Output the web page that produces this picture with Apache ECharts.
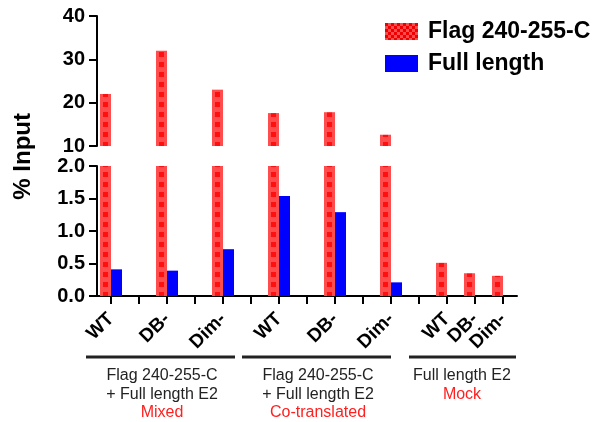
<!DOCTYPE html>
<html>
<head>
<meta charset="utf-8">
<script src="https://cdn.jsdelivr.net/npm/echarts@6/dist/echarts.min.js"></script>
<style>
html,body{margin:0;padding:0;background:#fff;}
#c{width:592px;height:422px;}
</style>
</head>
<body>
<div id="c"></div>
<script>
// Data
var categories = ['WT', '', 'DB-', '', 'Dim-', '', 'WT', '', 'DB-', '', 'Dim-', '', 'WT', 'DB-', 'Dim-'];
var flagValues = [22, null, 32, null, 23, null, 17.6, null, 17.8, null, 12.6, null, 0.51, 0.35, 0.31];
var fullLengthValues = [0.41, null, 0.39, null, 0.72, null, 1.54, null, 1.29, null, 0.21, null, null, null, null];
var topTicks = [10, 20, 30, 40];
var bottomTicks = [0, 0.5, 1.0, 1.5, 2.0];
var groupLines1 = ['Flag 240-255-C', '+ Full length E2'];
var groupLines2 = ['Flag 240-255-C', '+ Full length E2'];
var groupLines3 = ['Full length E2'];
var groupTags = ['Mixed', 'Co-translated', 'Mock'];

var FONT = 'Liberation Sans, Arial, Helvetica, sans-serif';

// bar fill: light red with darker dashed centre line (tile matches category band width)
var pc = document.createElement('canvas');
pc.width = 28; pc.height = 10;
var g = pc.getContext('2d');
g.fillStyle = '#ff4d4d'; g.fillRect(0, 0, 28, 10);
g.fillStyle = '#ff1010';
g.fillRect(19, 2, 5, 5);
var redPattern = { image: pc, repeat: 'repeat' };

// legend icon: checker pattern
var lc = document.createElement('canvas');
lc.width = 6; lc.height = 6;
var lg = lc.getContext('2d');
lg.fillStyle = '#ff4d4d'; lg.fillRect(0, 0, 6, 6);
lg.fillStyle = '#f00000';
lg.fillRect(0, 0, 3, 3); lg.fillRect(3, 3, 3, 3);
var legendPattern = { image: lc, repeat: 'repeat' };

var chart = echarts.init(document.getElementById('c'), null, { renderer: 'canvas' });

function yAxisCommon(idx, min, max, interval, fmt) {
  return {
    type: 'value', gridIndex: idx, min: min, max: max, interval: interval,
    splitLine: { show: false },
    axisLine: { show: true, lineStyle: { color: '#000', width: 2 } },
    axisTick: { show: true, length: 8, lineStyle: { color: '#000', width: 2 } },
    axisLabel: { color: '#000', fontFamily: FONT, fontWeight: 'bold', fontSize: 20, margin: 12, formatter: fmt }
  };
}

var groupTexts = [
  { x: 162, lines: groupLines1, tag: groupTags[0] },
  { x: 318, lines: groupLines2, tag: groupTags[1] },
  { x: 462, lines: groupLines3, tag: groupTags[2] }
];
var graphics = [
  { type: 'text', left: 11, top: 113, rotation: Math.PI / 2,
    style: { text: '% Input', font: 'bold 24px ' + FONT, fill: '#000' } },
  { type: 'line', shape: { x1: 86, y1: 357, x2: 235, y2: 357 }, style: { stroke: '#222', lineWidth: 3 } },
  { type: 'line', shape: { x1: 242, y1: 357, x2: 391, y2: 357 }, style: { stroke: '#222', lineWidth: 3 } },
  { type: 'line', shape: { x1: 409, y1: 357, x2: 516, y2: 357 }, style: { stroke: '#222', lineWidth: 3 } }
];
groupTexts.forEach(function (gt) {
  var y = 376;
  gt.lines.forEach(function (t) {
    graphics.push({ type: 'text', x: gt.x, y: y,
      style: { text: t, font: '16px ' + FONT, fill: '#222', textAlign: 'center', textVerticalAlign: 'middle' } });
    y += 18.5;
  });
  graphics.push({ type: 'text', x: gt.x, y: y,
    style: { text: gt.tag, font: '16px ' + FONT, fill: '#ff2020', textAlign: 'center', textVerticalAlign: 'middle' } });
});

var option = {
  animation: false,
  backgroundColor: '#fff',
  grid: [
    { left: 97, top: 16, width: 420, height: 130 },
    { left: 97, top: 166, width: 420, height: 130 }
  ],
  legend: {
    orient: 'vertical', left: 380, top: 15,
    itemWidth: 33, itemHeight: 17, itemGap: 9,
    textStyle: { fontFamily: FONT, fontWeight: 'bold', fontSize: 23, color: '#000', padding: [0, 0, 0, 5] },
    data: [
      { name: 'Flag 240-255-C', icon: 'rect', itemStyle: { color: legendPattern } },
      { name: 'Full length', icon: 'rect' }
    ],
    itemStyle: { borderWidth: 0 }
  },
  xAxis: [
    { type: 'category', gridIndex: 0, data: categories, show: false },
    { type: 'category', gridIndex: 1, data: categories,
      axisLine: { lineStyle: { color: '#000', width: 2 } },
      axisTick: { show: true, alignWithLabel: true, interval: 0, length: 8, lineStyle: { color: '#000', width: 2 } },
      axisLabel: { interval: 0, rotate: 45, color: '#000', fontFamily: FONT, fontWeight: 'bold', fontSize: 19, margin: 20 }
    }
  ],
  yAxis: [
    yAxisCommon(0, topTicks[0], topTicks[topTicks.length - 1], topTicks[1] - topTicks[0], function (v) { return String(v); }),
    yAxisCommon(1, bottomTicks[0], bottomTicks[bottomTicks.length - 1], bottomTicks[1] - bottomTicks[0], function (v) { return v.toFixed(1); })
  ],
  series: [
    { name: 'Flag 240-255-C', type: 'bar', xAxisIndex: 0, yAxisIndex: 0, data: flagValues,
      barWidth: 11, barGap: '0%', itemStyle: { color: redPattern } },
    { name: 'Full length', type: 'bar', xAxisIndex: 0, yAxisIndex: 0, data: fullLengthValues,
      barWidth: 11, barGap: '0%', itemStyle: { color: '#0000ff' } },
    { name: 'Flag 240-255-C', type: 'bar', xAxisIndex: 1, yAxisIndex: 1, data: flagValues,
      barWidth: 11, barGap: '0%', itemStyle: { color: redPattern } },
    { name: 'Full length', type: 'bar', xAxisIndex: 1, yAxisIndex: 1, data: fullLengthValues,
      barWidth: 11, barGap: '0%', itemStyle: { color: '#0000ff' } }
  ],
  graphic: graphics
};
chart.setOption(option);
</script>
</body>
</html>
